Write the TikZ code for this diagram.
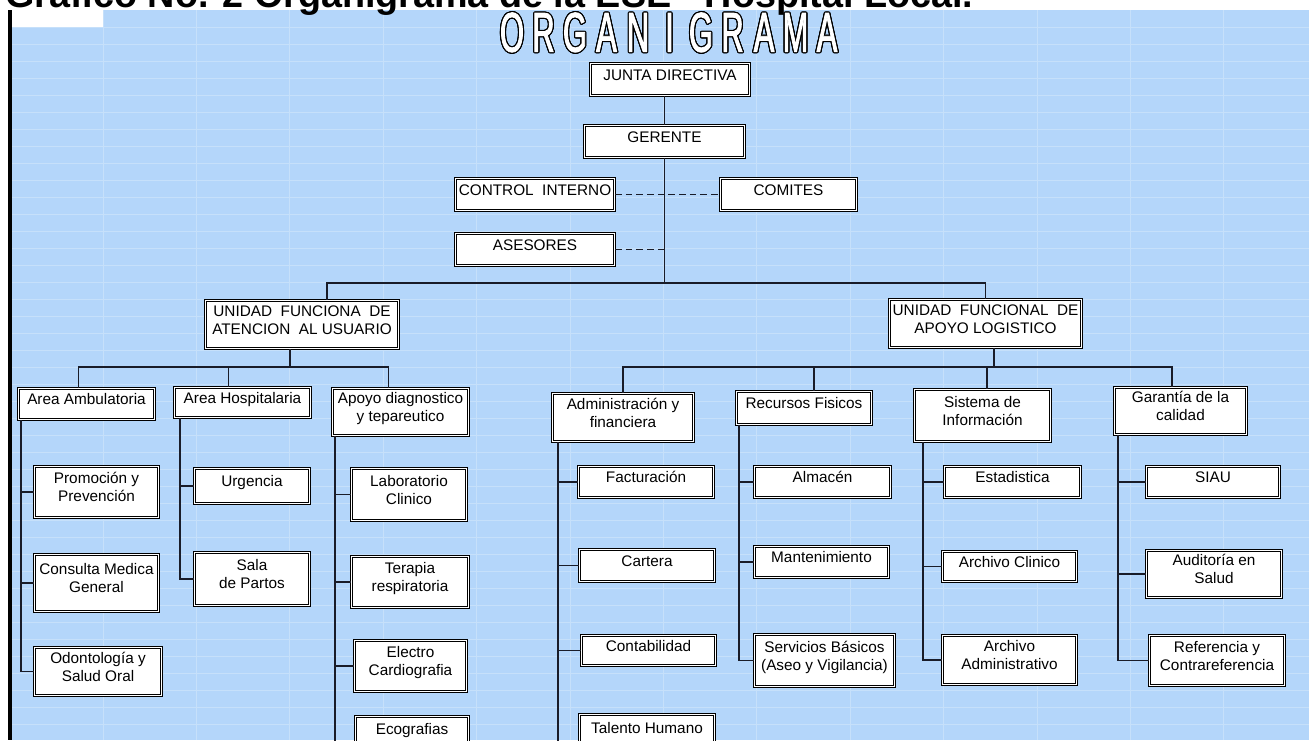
\documentclass[tikz,border=0pt]{standalone}
\usepackage{fontspec}
\setmainfont{Liberation Sans}
\newfontfamily\wordfont[FakeStretch=0.55, FakeBold=1.5]{Liberation Sans}
\usepackage{contour}
\contourlength{0.9pt}
\usetikzlibrary{calc}
\definecolor{hoja}{RGB}{180,214,250}
\definecolor{rejilla}{RGB}{198,224,250}
\definecolor{linea}{RGB}{25,28,40}
\newcommand{\bx}[1]{\raisebox{-1pt}[0pt][0pt]{\begin{tabular}{@{}c@{}}#1\end{tabular}}}

\begin{document}
\begin{tikzpicture}[x=0.75pt,y=-0.75pt,
  box/.style={draw=black, line width=0.65pt, double=white, double distance=0.9pt, fill=white, inner sep=0pt, font=\fontsize{11.5}{13.5}\selectfont},
  conn/.style={draw=linea, line width=1.25pt},
  punteado/.style={conn, dash pattern=on 5pt off 3pt},
  wordart/.style={text=white, inner sep=0pt, font=\wordfont\fontsize{42}{42}\selectfont}]
\useasboundingbox (0,0) rectangle (1309,740);
\clip (0,0) rectangle (1309,740);
% hoja de calculo
\fill[white] (0,0) rectangle (1309,740);
\fill[hoja] (12,10) rectangle (1309,740);
\foreach \k in {0,...,12}
    \draw[rejilla, line width=0.6pt] ({103+93.4*\k},10) -- ({103+93.4*\k},740);
\foreach \k in {0,...,42}
    \draw[rejilla, line width=0.45pt] (12,{27+17*\k}) -- (1309,{27+17*\k});
\fill[white] (12,10) rectangle (103,27);
\fill[black] (8,10) rectangle (12,740);
\node[anchor=base west, inner sep=0pt, font=\bfseries\fontsize{28.3}{30}\selectfont] (titulo) at (5,7.5) {Grafico No. 2 Organigrama de la ESE - Hospital Local.};
\foreach \ch [count=\i] in {O,R,G,A,N,I,G,R,A,M,A}
    \node[wordart] (w\i) at ({512+31.5*(\i-1)},33) {\contour{black}{\ch}};

% direccion
\node[box, minimum width=119.5pt, minimum height=24.25pt] (jd) at (670,79.5) {\bx{JUNTA DIRECTIVA}};
\node[box, minimum width=120.25pt, minimum height=24.25pt] (ger) at (664.5,141.5) {\bx{GERENTE}};
\node[box, minimum width=119.5pt, minimum height=24.25pt] (ci) at (535,194.5) {\bx{CONTROL\ \ INTERNO}};
\node[box, minimum width=102.25pt, minimum height=24.25pt] (com) at (788.5,194.5) {\bx{COMITES}};
\node[box, minimum width=119.5pt, minimum height=24.25pt] (ase) at (535,249.5) {\bx{ASESORES}};
\coordinate (bus) at (664.5,283);
\draw[conn] (ger.north) -- (ger.north |- jd.south);
\draw[conn] (ger.south) -- (bus);
\draw[punteado] (ci.east) -- (com.west);
\draw[punteado] (ase.east) -- (ase.east -| ger.south);

% unidades funcionales
\node[box, minimum width=145pt, minimum height=36.25pt] (uL) at (302,324.5) {\bx{UNIDAD\ \ FUNCIONA\ \ DE\\ATENCION\ \ AL USUARIO}};
\node[box, minimum width=144.25pt, minimum height=36.25pt] (uR) at (985.5,323.5) {\bx{UNIDAD\ \ FUNCIONAL\ \ DE\\APOYO LOGISTICO}};
\draw[conn] ($(uL.north)+(25,0)$) |- (bus) -| (uR.north);

% atencion al usuario
\node[box, minimum width=102.25pt, minimum height=23.5pt] (amb) at (86.5,404) {\bx{Area Ambulatoria}};
\node[box, minimum width=102.25pt, minimum height=22.75pt] (hos) at (242.5,402.5) {\bx{Area Hospitalaria}};
\node[box, minimum width=102.25pt, minimum height=35.5pt] (apo) at (400.5,412) {\bx{Apoyo diagnostico\\y tepareutico}};
\coordinate (subL) at (290,367);
\draw[conn] ($(uL.south)+(-12,0)$) -- (subL);
\draw[conn] ($(amb.north)+(-8,0)$) |- (subL);
\draw[conn] ($(hos.north)+(-14,0)$) |- (subL);
\draw[conn] ($(apo.north)+(-12,0)$) |- (subL);

\node[box, minimum width=93.25pt, minimum height=38.5pt] (promo) at (96.5,492) {\bx{Promoción y\\Prevención}};
\node[box, minimum width=93.25pt, minimum height=43pt] (cons) at (96.5,583) {\bx{Consulta Medica\\General}};
\node[box, minimum width=95.5pt, minimum height=36.25pt] (odon) at (98,671.5) {\bx{Odontología y\\Salud Oral}};
\node[box, minimum width=86.5pt, minimum height=26.5pt] (urg) at (252,486) {\bx{Urgencia}};
\node[box, minimum width=86.5pt, minimum height=40pt] (sala) at (252,579) {\bx{Sala\\de Partos}};
\node[box, minimum width=86.5pt, minimum height=39.25pt] (lab) at (409,494.5) {\bx{Laboratorio\\Clinico}};
\node[box, minimum width=88pt, minimum height=38.5pt] (ter) at (410,582) {\bx{Terapia\\respiratoria}};
\node[box, minimum width=84.25pt, minimum height=38.5pt] (ele) at (410.5,666) {\bx{Electro\\Cardiografia}};
\node[box, minimum width=85pt, minimum height=39.25pt] (eco) at (412,742.5) {\bx{Ecografias\\\ }};
\foreach \c in {promo,cons,odon}
    \draw[conn] ($(amb.south west)+(3,0)$) |- (\c.west);
\foreach \c in {urg,sala}
    \draw[conn] ($(hos.south west)+(6,0)$) |- (\c.west);
\foreach \c in {lab,ter,ele,eco}
    \draw[conn] ($(apo.south west)+(3,0)$) |- (\c.west);

% apoyo logistico
\node[box, minimum width=106pt, minimum height=36.25pt] (adm) at (623,417.5) {\bx{Administración y\\financiera}};
\node[box, minimum width=101.5pt, minimum height=25pt] (rec) at (804,408) {\bx{Recursos Fisicos}};
\node[box, minimum width=102.25pt, minimum height=39.25pt] (sis) at (982.5,415.5) {\bx{Sistema de\\Información}};
\node[box, minimum width=99.25pt, minimum height=35.5pt] (gar) at (1180.5,411) {\bx{Garantía de la\\calidad}};
\coordinate (subR) at (994,367);
\draw[conn] ($(uR.south)+(8.5,0)$) -- (subR);
\draw[conn] (adm.north) |- (subR);
\draw[conn] ($(rec.north)+(10,0)$) |- (subR);
\draw[conn] ($(sis.north)+(4.5,0)$) |- (subR);
\draw[conn] ($(gar.north)+(-8.5,0)$) |- (subR);

\node[box, minimum width=101.5pt, minimum height=23.5pt] (fac) at (646,482) {\bx{Facturación}};
\node[box, minimum width=101.5pt, minimum height=24.25pt] (car) at (647,565.5) {\bx{Cartera}};
\node[box, minimum width=100.75pt, minimum height=22.75pt] (cont) at (648.5,650.5) {\bx{Contabilidad}};
\node[box, minimum width=101.5pt, minimum height=40.75pt] (tal) at (647,741.5) {\bx{Talento Humano\\\ }};
\node[box, minimum width=102.25pt, minimum height=23.5pt] (alm) at (822.5,482) {\bx{Almacén}};
\node[box, minimum width=100.75pt, minimum height=23.5pt] (man) at (821.5,562) {\bx{Mantenimiento}};
\node[box, minimum width=105.25pt, minimum height=39.25pt] (serv) at (824.5,660.5) {\bx{Servicios Básicos\\(Aseo y Vigilancia)}};
\node[box, minimum width=102.25pt, minimum height=23.5pt] (est) at (1012.5,482) {\bx{Estadistica}};
\node[box, minimum width=100.75pt, minimum height=22.75pt] (arcl) at (1009.5,566.5) {\bx{Archivo Clinico}};
\node[box, minimum width=100.75pt, minimum height=37pt] (arad) at (1009.5,660) {\bx{Archivo\\Administrativo}};
\node[box, minimum width=100pt, minimum height=23.5pt] (siau) at (1213,482) {\bx{SIAU}};
\node[box, minimum width=101.5pt, minimum height=35.5pt] (aud) at (1214,574) {\bx{Auditoría en\\Salud}};
\node[box, minimum width=101.5pt, minimum height=37.75pt] (ref) at (1217,660.5) {\bx{Referencia y\\Contrareferencia}};
\foreach \c in {fac,car,cont,tal}
    \draw[conn] ($(adm.south west)+(6,0)$) |- (\c.west);
\foreach \c in {alm,man,serv}
    \draw[conn] ($(rec.south west)+(3,0)$) |- (\c.west);
\foreach \c in {est,arcl,arad}
    \draw[conn] ($(sis.south west)+(9,0)$) |- (\c.west);
\foreach \c in {siau,aud,ref}
    \draw[conn] ($(gar.south west)+(4,0)$) |- (\c.west);
\end{tikzpicture}
\end{document}
